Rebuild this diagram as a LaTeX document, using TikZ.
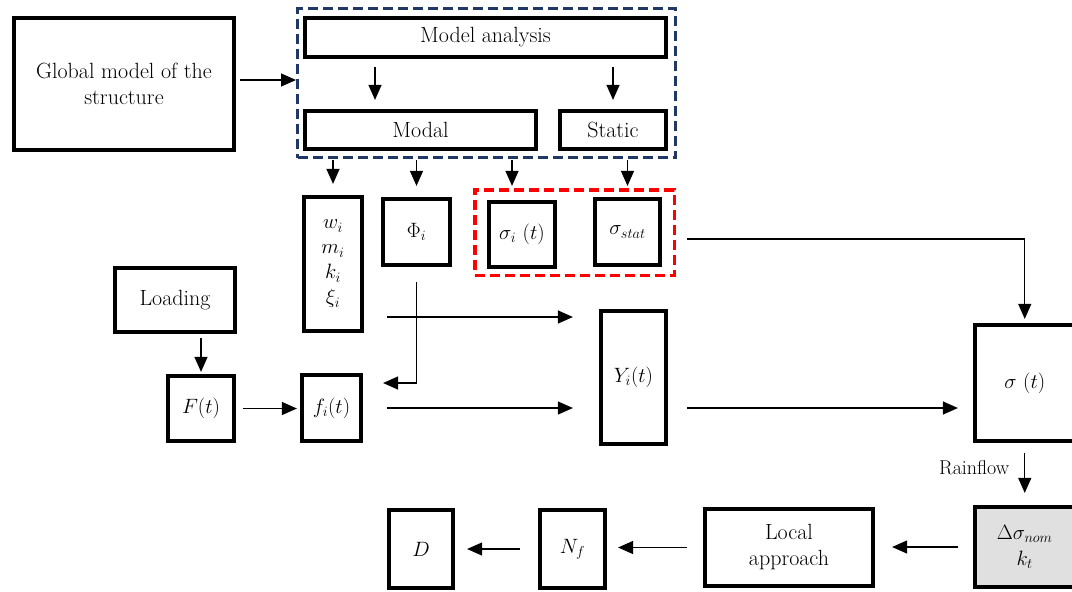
\documentclass[tikz,border=0pt]{standalone}
\usetikzlibrary{arrows.meta}
\definecolor{navyblue}{HTML}{1F3864}
\definecolor{dashred}{HTML}{FF0000}
\definecolor{lgray}{HTML}{E0E0E0}
\begin{document}
\begin{tikzpicture}[x=1pt,y=-1pt,
  box/.style={draw, line width=3.7pt, inner sep=0pt, align=center,
    font=\fontsize{22}{26}\selectfont, fill=white},
  conn/.style={line width=1.2pt, -{Triangle[length=15pt,width=13pt]}},
  bluedash/.style={draw=navyblue, line width=3pt, dash pattern=on 10pt off 5pt, inner sep=0pt},
  reddash/.style={draw=dashred, line width=3.5pt, dash pattern=on 10pt off 5pt, inner sep=0pt},
  lbl/.style={font=\fontsize{20}{24}\selectfont, inner sep=0pt}
]
\useasboundingbox (0,0) rectangle (1072,592);
\clip (0,0) rectangle (1072,592);

% upper left
\node[box, minimum width=220.5pt, minimum height=132.5pt] (global) at (124,84) {Global model of the\\structure};

% blue dashed group
\node[bluedash, minimum width=378pt, minimum height=149pt] (blue) at (486.5,83) {};
\node[box, minimum width=361.5pt, minimum height=39.5pt] (modelan) at (485.5,37.5) {Model analysis};
\node[box, minimum width=231.5pt, minimum height=38.5pt] (modal) at (420.5,130) {Modal};
\node[box, minimum width=106.5pt, minimum height=38.5pt] (static) at (613,130) {Static};

% results
\node[box, minimum width=58.5pt, minimum height=134.5pt, font=\fontsize{22}{25}\selectfont] (wbox) at (333,264) {$w_i$\\$m_i$\\$k_i$\\$\xi_i$};
\node[box, minimum width=67.5pt, minimum height=66.5pt] (phi) at (416.5,232) {$\Phi_i$};
\node[reddash, minimum width=199.5pt, minimum height=85.5pt] (red) at (574.5,232.5) {};
\node[box, minimum width=66.5pt, minimum height=65.5pt] (sigi) at (522,234.5) {$\sigma_i\ (t)$};
\node[box, minimum width=65.5pt, minimum height=66.5pt] (sigs) at (627.5,232) {$\sigma_{stat}$};

% loading chain
\node[box, minimum width=120.5pt, minimum height=64.5pt] (loading) at (175,300) {Loading};
\node[box, minimum width=66.5pt, minimum height=65.5pt] (F) at (201,408.5) {$F(t)$};
\node[box, minimum width=59.5pt, minimum height=66.5pt] (fi) at (331.5,408) {$f_i(t)$};
\node[box, minimum width=65.5pt, minimum height=133.5pt] (Yi) at (633.5,377.5) {$Y_i(t)$};
\node[box, minimum width=100pt, minimum height=116.5pt] (sigma) at (1024.75,383) {$\sigma\ (t)$};

% bottom row
\node[box, fill=lgray, minimum width=100pt, minimum height=80.5pt] (dsig) at (1024.75,547) {$\Delta\sigma_{nom}$\\$k_t$};
\node[box, minimum width=168.5pt, minimum height=77.5pt] (local) at (789,547.5) {Local\\approach};
\node[box, minimum width=65.5pt, minimum height=78.5pt] (Nf) at (572.5,549) {$N_f$};
\node[box, minimum width=64.5pt, minimum height=78.5pt] (D) at (421,549) {$D$};

% connectors
\coordinate (g1) at ([yshift=4pt,xshift=4pt]global.east);
\draw[conn] (g1) -- (g1 -| blue.west);

\coordinate (m1) at ([xshift=-45.5pt]modal.north);
\draw[conn, shorten <=8pt, shorten >=9pt] (m1 |- modelan.south) -- (m1);
\draw[conn, shorten <=8pt, shorten >=9pt] (static.north |- modelan.south) -- (static.north);

\draw[conn, shorten <=1pt, shorten >=11pt] (wbox.north |- blue.south) -- (wbox.north);
\draw[conn, shorten <=1pt, shorten >=11pt] (phi.north |- blue.south) -- (phi.north);
\coordinate (s1) at ([xshift=-10pt]sigi.north);
\draw[conn, shorten <=1pt, shorten >=14pt] (s1 |- blue.south) -- (s1);
\draw[conn, shorten <=1pt, shorten >=11pt] (sigs.north |- blue.south) -- (sigs.north);

\coordinate (r1) at ([yshift=-6.5pt,xshift=11pt]red.east);
\draw[conn, shorten >=4pt] (r1) -| (sigma.north);

\coordinate (p1) at ([yshift=25pt,xshift=20pt]fi.east);
\draw[conn, shorten <=15pt] (phi.south) |- (p1);

\coordinate (y1) at ([yshift=60.5pt,xshift=-26pt]Yi.west);
\draw[conn, shorten <=23pt] (y1 -| wbox.east) -- (y1);

\draw[conn, shorten <=24pt, shorten >=26pt] (fi.east) -- (fi.east -| Yi.west);
\draw[conn, shorten <=7pt, shorten >=3pt] (F.east) -- (F.east -| fi.west);
\draw[conn, shorten <=4pt, shorten >=2pt] (F.north |- loading.south) -- (F.north);

\coordinate (y2) at ([yshift=-30.5pt]Yi.east);
\draw[conn, shorten <=19pt, shorten >=15pt] (y2) -- (y2 -| sigma.west);

\draw[conn, shorten <=10pt, shorten >=12pt] (sigma.south) -- node[lbl, anchor=east, xshift=-15pt, yshift=6pt] {Rainflow} (dsig.north);

\draw[conn, shorten <=15pt, shorten >=17pt] (dsig.west) -- (dsig.west -| local.east);
\draw[conn, shorten <=16pt, shorten >=11pt] (local.west) -- (local.west -| Nf.east);
\draw[conn, shorten <=18pt, shorten >=12pt] (Nf.west) -- (Nf.west -| D.east);
\end{tikzpicture}
\end{document}
